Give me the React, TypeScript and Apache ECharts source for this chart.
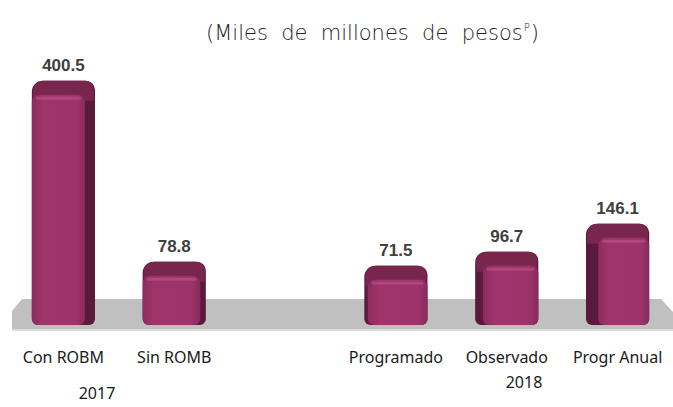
import React, { useEffect, useRef } from "react";
import * as echarts from "echarts";

const categories = ["Con ROBM", "Sin ROMB", "", "Programado", "Observado", "Progr Anual"];
const values: (number | null)[] = [400.5, 78.8, null, 71.5, 96.7, 146.1];
const years = ["2017", "2018"];
const titleMain = "(Miles  de  millones  de  pesos";
const titleSup = "P";

export default function App() {
  const ref = useRef<HTMLDivElement>(null);
  useEffect(() => {
    if (!ref.current) return;
    const chart = echarts.init(ref.current, null, { renderer: "svg" });
    const data = values
      .map((v, i) => (v == null ? null : [i, v]))
      .filter((d) => d != null) as number[][];

    const renderItem = (params: any, api: any) => {
      const idx = api.value(0);
      const v = api.value(1);
      const top = api.coord([idx, v]);
      const base = api.coord([idx, 0]);
      const w = api.size([1, 0])[0] * 0.57;
      const cx = top[0];
      const x0 = cx - w / 2;
      const x1 = cx + w / 2;
      const yTop = top[1];
      const yBot = base[1] + 19;
      const s = (cx - 313) * 0.04;
      const sideW = Math.max(Math.abs(s), 3);
      const topH = 14;
      const fx0 = s < 0 ? x0 : x0 + sideW;
      const fx1 = s < 0 ? x1 - sideW : x1;
      return {
        type: "group",
        children: [
          {
            type: "rect",
            shape: { x: x0, y: yTop, width: w, height: yBot - yTop, r: [11, 9, 6, 6] },
            style: { fill: "#5a1a3d" },
          },
          {
            type: "rect",
            shape: { x: x0 + 1, y: yTop, width: w - 2, height: topH + 6, r: [11, 9, 0, 0] },
            style: { fill: "#79264f" },
          },
          {
            type: "rect",
            shape: { x: fx0, y: yTop + topH, width: fx1 - fx0, height: yBot - yTop - topH, r: [7, 7, 6, 6] },
            style: {
              fill: new echarts.graphic.LinearGradient(0, 0, 1, 0, [
                { offset: 0, color: "#8d2b5e" },
                { offset: 0.2, color: "#9e346b" },
                { offset: 0.85, color: "#9c3369" },
                { offset: 1, color: "#892a5b" },
              ]),
            },
          },
          {
            type: "rect",
            shape: { x: fx0 + 4, y: yTop + topH + 2, width: fx1 - fx0 - 8, height: 3, r: 1 },
            style: { fill: "#c45a8f", opacity: 0.5 },
          },
          {
            type: "text",
            style: {
              x: cx,
              y: yTop - 7,
              text: v.toFixed(1),
              align: "center",
              verticalAlign: "bottom",
              fill: "#404040",
              font: "bold 17px 'Liberation Sans', sans-serif",
            },
          },
        ],
      };
    };

    chart.setOption({
      animation: false,
      title: {
        text: `{a|${titleMain}}{s|${titleSup}}{a|)}`,
        left: 201,
        top: 17,
        textStyle: {
          rich: {
            a: { fontFamily: "DejaVu Sans", fontSize: 21, color: "#222", fontWeight: 200 },
            s: { fontFamily: "DejaVu Sans", fontSize: 10, color: "#222", fontWeight: 200, verticalAlign: "top", padding: [0, 1, 12, 1] },
          },
        },
      },
      grid: { left: 8, width: 666, top: 53, height: 253 },
      xAxis: {
        type: "category",
        data: categories,
        axisLine: { show: false },
        axisTick: { show: false },
        axisLabel: {
          interval: 0,
          margin: 43,
          fontFamily: "Noto Sans",
          fontSize: 16,
          color: "#1a1a1a",
        },
      },
      yAxis: {
        type: "value",
        min: 0,
        max: 450,
        show: false,
        splitLine: { show: false },
      },
      graphic: [
        {
          type: "polygon",
          z: 0,
          shape: {
            points: [
              [22, 299],
              [661, 299],
              [673, 312],
              [673, 329],
              [12, 329],
              [12, 311],
            ],
          },
          style: { fill: "#c0c0c0" },
        },
        {
          type: "rect",
          z: 0,
          shape: { x: 12, y: 329, width: 661, height: 2 },
          style: { fill: "#dcdcdc" },
        },
        {
          type: "text",
          x: 97,
          y: 393,
          style: {
            text: years[0],
            align: "center",
            verticalAlign: "middle",
            fill: "#1a1a1a",
            font: "16px 'Noto Sans'",
          },
        },
        {
          type: "text",
          x: 524,
          y: 382,
          style: {
            text: years[1],
            align: "center",
            verticalAlign: "middle",
            fill: "#1a1a1a",
            font: "16px 'Noto Sans'",
          },
        },
      ],
      series: [
        {
          type: "custom",
          z: 10,
          renderItem,
          data,
          encode: { x: 0, y: 1 },
        },
      ],
    });
    return () => chart.dispose();
  }, []);
  return (
    <div
      ref={ref}
      style={{ position: "fixed", left: 0, top: 0, width: 673, height: 407, background: "#fff" }}
    />
  );
}
